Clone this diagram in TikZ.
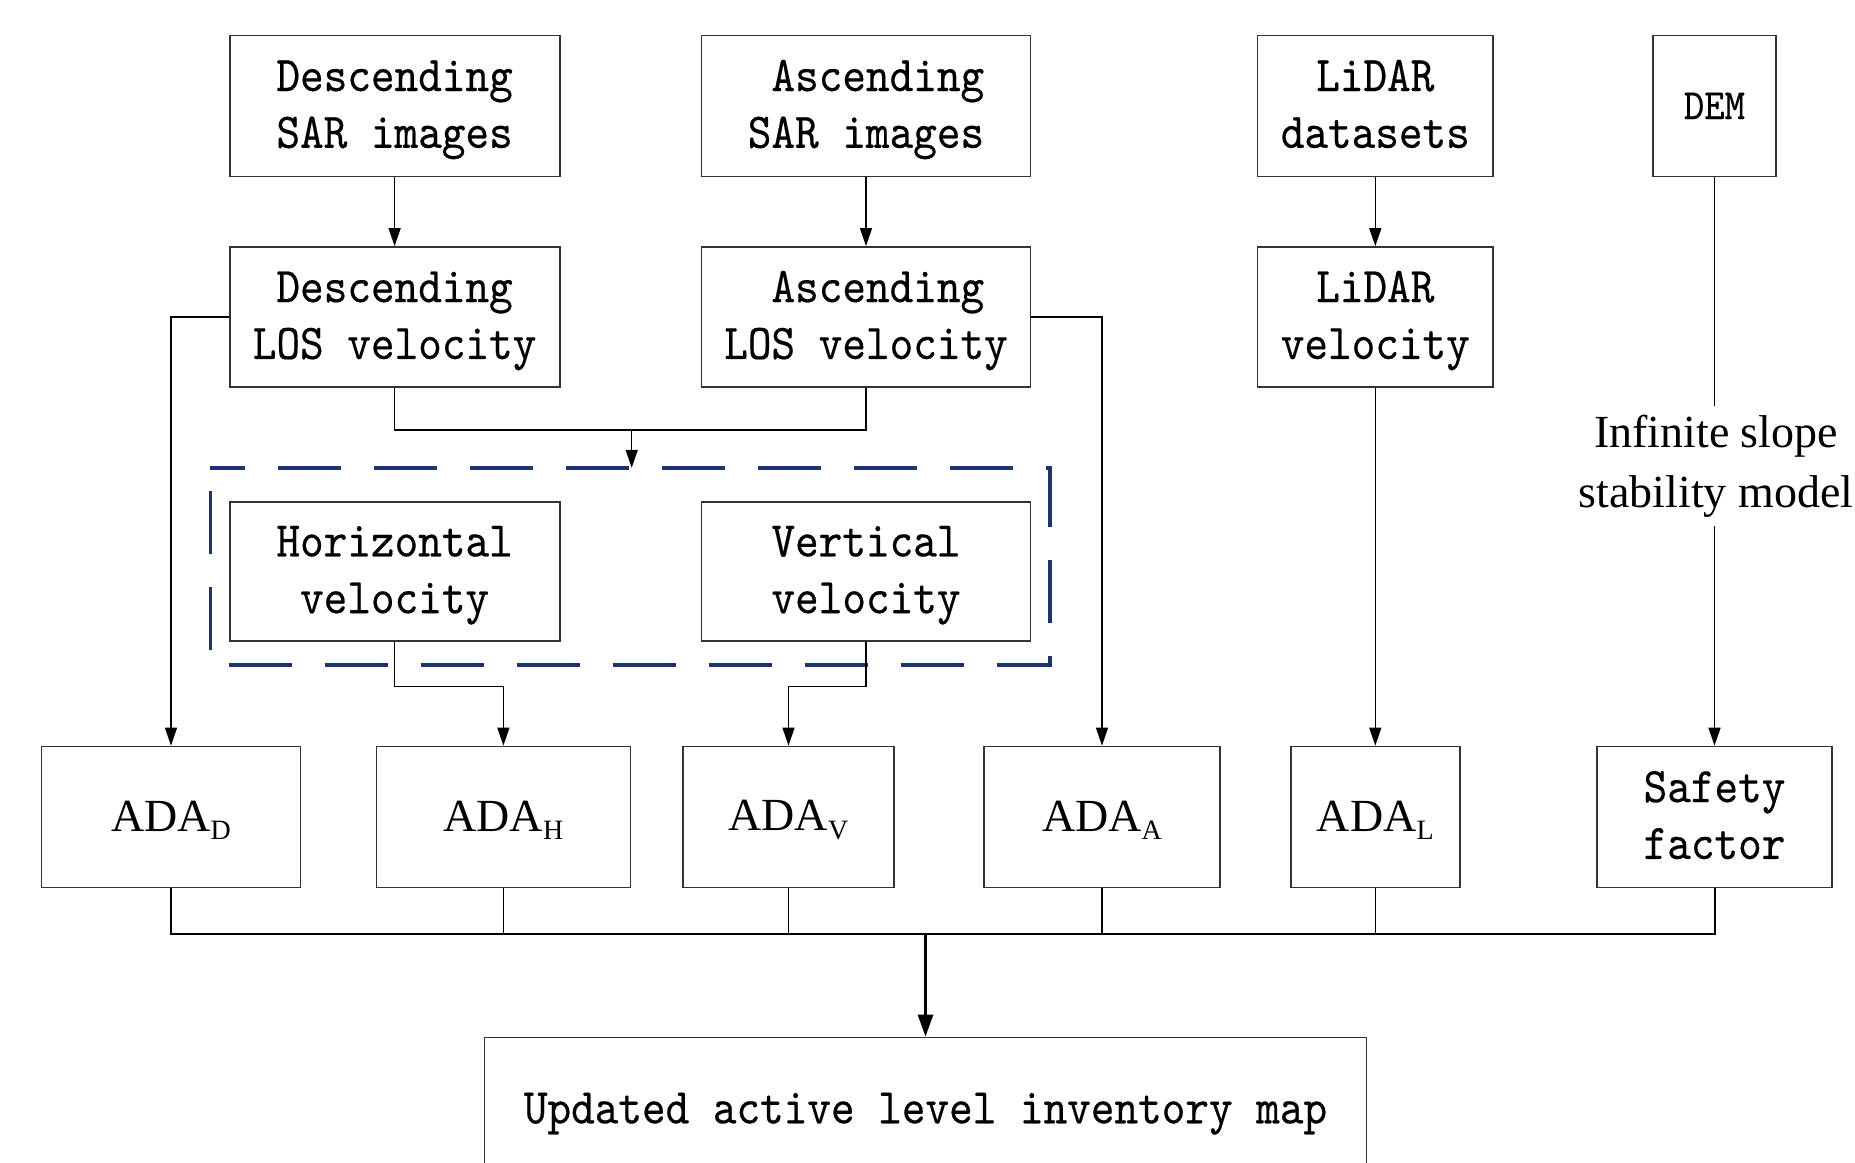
\documentclass[tikz,border=0pt]{standalone}
\usepackage{fontspec}
\usetikzlibrary{arrows.meta,calc}
\newfontfamily\boxfont{lmmono10-regular.otf}[FakeStretch=0.9, FakeBold=0.4]
\newfontfamily\serifface{Liberation Serif}
\definecolor{grpblue}{RGB}{30,52,112}
% ADA label with a lowered, smaller subscript letter
\newcommand\adalabel[1]{\rule{0pt}{36.5pt}ADA{\fontsize{28}{28}\selectfont\raisebox{-8.3pt}{#1}}}
% two text lines with fixed top and bottom clearance
\newcommand\twolines[2]{\rule{0pt}{39pt}#1\\#2\rule[-12pt]{0pt}{12pt}}

\begin{document}
\begin{tikzpicture}[x=1pt,y=-1pt,
  box/.style={draw=black!80, line width=1.8pt, inner sep=0pt, align=center,
    font=\boxfont\fontsize{50}{56.8}\selectfont},
  adabox/.style={draw=black!80, line width=1.8pt, inner sep=0pt,
    font=\serifface\fontsize{46}{50}\selectfont},
  link/.style={line width=1.5pt},
  flow/.style={link, -{Triangle[length=18pt,width=12pt]}},
  mainflow/.style={line width=2.8pt, -{Triangle[length=22pt,width=15pt]}},
  grpline/.style={draw=grpblue, line width=3.5pt, dash pattern=on 63pt off 33pt, dash phase=28pt}]

\useasboundingbox (0,0) rectangle (1855,1162);
\clip (0,0) rectangle (1855,1162);

% inputs
\node[box, minimum width=330pt, minimum height=141pt] (dsar) at (394.6,105.9) {\twolines{Descending}{SAR images}};
\node[box, minimum width=329pt, minimum height=141pt] (asar) at (866,105.9) {\twolines{\hphantom{A}Ascending}{SAR images}};
\node[box, minimum width=235.5pt, minimum height=141pt] (lds) at (1375.3,105.9) {\twolines{LiDAR}{datasets}};
\node[box, minimum width=123pt, minimum height=141pt, font=\boxfont\fontsize{43}{50}\selectfont] (dem) at (1714.5,105.9) {DEM};

% velocities
\node[box, minimum width=330pt, minimum height=140pt] (dlos) at (394.6,317) {\twolines{Descending}{LOS velocity}};
\node[box, minimum width=329pt, minimum height=140pt] (alos) at (866,317) {\twolines{\hphantom{A}Ascending}{LOS velocity}};
\node[box, minimum width=235.5pt, minimum height=140pt] (lvel) at (1375.3,317) {\twolines{LiDAR}{velocity}};

% decomposed velocities
\node[minimum width=839.5pt, minimum height=197pt, inner sep=0pt] (grp) at (630.25,566.5) {};
\node[box, minimum width=330pt, minimum height=139.4pt] (hv) at (394.6,571.3) {\twolines{Horizontal}{velocity}};
\node[box, minimum width=329pt, minimum height=139.4pt] (vv) at (866,571.3) {\twolines{Vertical}{velocity}};
\draw[grpline] (grp.north west) -- (grp.north east) -- (grp.south east) -- (grp.south west) -- cycle;

% slope model label
\node[inner sep=0pt, minimum height=120pt, align=center,
  font=\serifface\fontsize{46}{60}\selectfont] (ism) at (1716,466) {Infinite slope\\stability model};

% ADA results
\node[adabox, minimum width=259pt, minimum height=141pt] (adad) at (171,817) {\adalabel{D}};
\node[adabox, minimum width=254pt, minimum height=141pt] (adah) at (503.4,817) {\adalabel{H}};
\node[adabox, minimum width=211.7pt, minimum height=141pt] (adav) at (788.5,817) {\adalabel{V}};
\node[adabox, minimum width=235.4pt, minimum height=141pt] (adaa) at (1102,817) {\adalabel{A}};
\node[adabox, minimum width=169pt, minimum height=141pt] (adal) at (1375.3,817) {\adalabel{L}};
\node[box, minimum width=235.5pt, minimum height=141pt] (sf) at (1714.5,817) {\twolines{Safety}{factor}};

% output
\node[box, minimum width=882pt, minimum height=141pt] (out) at (925.5,1108) {\rule{0pt}{42pt}Updated active level inventory map};

\coordinate (mrg) at (631.7,430);
\coordinate (bus) at (925.5,934);

% connectors
\draw[flow] (dsar) -- (dlos);
\draw[flow] (asar) -- (alos);
\draw[flow] (lds) -- (lvel);
\draw[link] (dlos.south) |- (alos.south |- mrg) -- (alos.south);
\draw[flow] (mrg) -- (mrg |- grp.north);
\draw[flow] (dlos.west) -| (adad.north);
\draw[flow] (alos.east) -| (adaa.north);
\draw[flow] (hv.south) -- ++(0,44.5) -| (adah.north);
\draw[flow] (vv.south) -- ++(0,44.5) -| (adav.north);
\draw[flow] (lvel) -- (adal);
\draw[link] (dem.south) -- (dem.south |- ism.north);
\draw[flow] (sf.north |- ism.south) -- (sf.north);

% collecting bus
\draw[line width=2pt] (adad.south) |- (sf.south |- bus) -- (sf.south);
\foreach \n in {adah,adav,adaa,adal}
  \draw[link] (\n.south) -- (\n.south |- bus);
\draw[mainflow] (bus) -- (out.north);
\end{tikzpicture}
\end{document}
